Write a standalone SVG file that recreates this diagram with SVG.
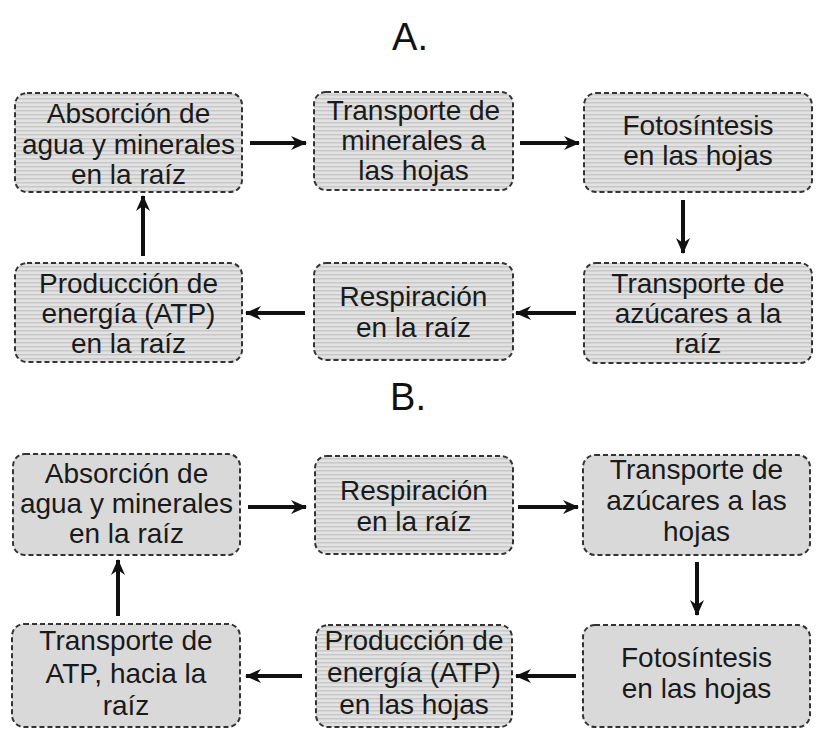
<svg xmlns="http://www.w3.org/2000/svg" width="826" height="741" viewBox="0 0 826 741">
<style>
.box{stroke:#333;stroke-width:2;stroke-dasharray:5 3;}
.a{fill:url(#stripes);}
.b{fill:#d9d9d9;}
text{font-family:"Liberation Sans",Arial,sans-serif;font-size:28px;fill:#1a1a1a;text-anchor:middle;}
.title{font-size:38px;fill:#111;}
.arr{stroke:#111;stroke-width:4;fill:none;marker-end:url(#head);}
</style>
<defs>
<pattern id="stripes" width="4" height="4" patternUnits="userSpaceOnUse">
<rect width="4" height="4" fill="#e2e2e2"/>
<rect y="2" width="4" height="1.5" fill="#c8c8c8"/>
</pattern>
<marker id="head" markerUnits="userSpaceOnUse" markerWidth="16" markerHeight="14" refX="15" refY="7" orient="auto">
<path d="M0,0 L16,7 L0,14 L5,7 z" fill="#111"/>
</marker>
</defs>
<rect width="826" height="741" fill="#fff"/>
<text class="title" x="410" y="50">A.</text>
<text class="title" x="408" y="410">B.</text>
<g id="a1"><rect class="box a" x="15" y="93" width="227" height="99" rx="12"/><text x="128.5" y="123">Absorción de</text><text x="128.5" y="153.5">agua y minerales</text><text x="128.5" y="184">en la raíz</text></g>
<g id="a2"><rect class="box a" x="314" y="92" width="199" height="98" rx="12"/><text x="413.5" y="120">Transporte de</text><text x="413.5" y="150">minerales a</text><text x="413.5" y="180">las hojas</text></g>
<g id="a3"><rect class="box a" x="584" y="93" width="228" height="99" rx="12"/><text x="698" y="135">Fotosíntesis</text><text x="698" y="165">en las hojas</text></g>
<g id="a4"><rect class="box a" x="584" y="263" width="228" height="100" rx="12"/><text x="698" y="293">Transporte de</text><text x="698" y="323">azúcares a la</text><text x="698" y="353">raíz</text></g>
<g id="a5"><rect class="box a" x="314" y="263" width="199" height="97" rx="12"/><text x="413.5" y="306">Respiración</text><text x="413.5" y="337">en la raíz</text></g>
<g id="a6"><rect class="box a" x="15" y="263" width="227" height="99" rx="12"/><text x="128.5" y="293">Producción de</text><text x="128.5" y="323">energía (ATP)</text><text x="128.5" y="353">en la raíz</text></g>
<g id="b1"><rect class="box b" x="13" y="454" width="227" height="101" rx="12"/><text x="126.5" y="483">Absorción de</text><text x="126.5" y="513">agua y minerales</text><text x="126.5" y="543">en la raíz</text></g>
<g id="b2"><rect class="box a" x="315" y="456" width="198" height="98" rx="12"/><text x="414" y="500">Respiración</text><text x="414" y="531">en la raíz</text></g>
<g id="b3"><rect class="box b" x="583" y="455" width="227" height="100" rx="12"/><text x="696.5" y="479">Transporte de</text><text x="696.5" y="510">azúcares a las</text><text x="696.5" y="541">hojas</text></g>
<g id="b4"><rect class="box b" x="583" y="625" width="227" height="102" rx="12"/><text x="696.5" y="667">Fotosíntesis</text><text x="696.5" y="698">en las hojas</text></g>
<g id="b5"><rect class="box a" x="316" y="625" width="196" height="102" rx="12"/><text x="414" y="650">Producción de</text><text x="414" y="682">energía (ATP)</text><text x="414" y="714">en las hojas</text></g>
<g id="b6"><rect class="box b" x="12" y="624" width="228" height="103" rx="12"/><text x="126" y="650">Transporte de</text><text x="126" y="683">ATP, hacia la</text><text x="126" y="715">raíz</text></g>
<g id="connectors">
<line class="arr" x1="250" y1="143" x2="306" y2="143"/>
<line class="arr" x1="520" y1="143" x2="579" y2="143"/>
<line class="arr" x1="683" y1="200" x2="683" y2="253"/>
<line class="arr" x1="576" y1="313" x2="516" y2="313"/>
<line class="arr" x1="305" y1="313" x2="246" y2="313"/>
<line class="arr" x1="143" y1="256" x2="143" y2="196"/>
<line class="arr" x1="248" y1="507" x2="306" y2="507"/>
<line class="arr" x1="518" y1="507" x2="578" y2="507"/>
<line class="arr" x1="697" y1="562" x2="697" y2="615"/>
<line class="arr" x1="576" y1="676" x2="516" y2="676"/>
<line class="arr" x1="302" y1="676" x2="246" y2="676"/>
<line class="arr" x1="118" y1="616" x2="118" y2="560"/>
</g>
</svg>
